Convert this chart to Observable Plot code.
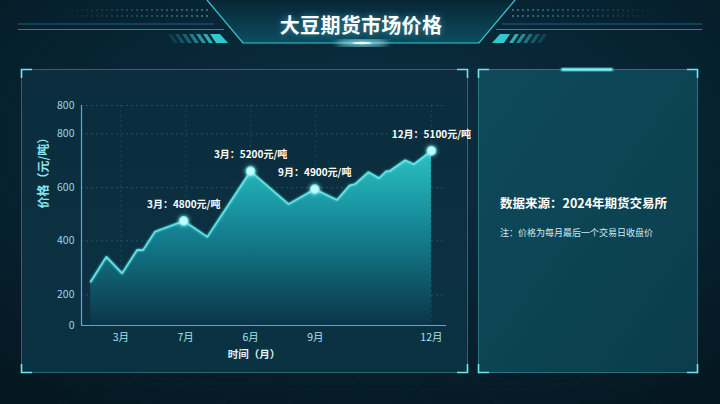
<!DOCTYPE html>
<html><head><meta charset="utf-8">
<script src="https://cdn.jsdelivr.net/npm/d3@7"></script>
<script src="https://cdn.jsdelivr.net/npm/@observablehq/plot@0.6"></script>
<style>
html,body{margin:0;padding:0;width:720px;height:404px;overflow:hidden;background:#061d29;font-family:"Noto Sans CJK SC","Noto Sans",sans-serif;}
#decor{position:absolute;left:0;top:0;}
#title{position:absolute;left:0;top:11px;width:722px;text-align:center;color:#fff;font-size:20px;font-weight:700;line-height:28px;letter-spacing:0.3px;text-shadow:0 0 6px rgba(120,230,255,0.5);}
#chart{position:absolute;left:22px;top:70px;}
#src{position:absolute;left:500px;top:193px;color:#fff;font-size:12.5px;font-weight:700;line-height:20px;white-space:nowrap;}
#note{position:absolute;left:500px;top:225px;color:#d6e8ec;font-size:9px;line-height:16px;white-space:nowrap;}
</style></head>
<body>
<svg id="decor" width="720" height="404" xmlns="http://www.w3.org/2000/svg">
  <defs>
    <radialGradient id="bgG" cx="50%" cy="35%" r="75%">
      <stop offset="0" stop-color="#0b3141"/>
      <stop offset="0.55" stop-color="#072433"/>
      <stop offset="1" stop-color="#051822"/>
    </radialGradient>
    <linearGradient id="trapG" x1="0" y1="0" x2="0" y2="1">
      <stop offset="0" stop-color="#072634"/>
      <stop offset="1" stop-color="#0d4d5f"/>
    </linearGradient>
    <linearGradient id="lpG" x1="0" y1="0" x2="0" y2="1">
      <stop offset="0" stop-color="#0b2d3d"/>
      <stop offset="1" stop-color="#0a3243"/>
    </linearGradient>
    <linearGradient id="rpG" x1="0" y1="0" x2="1" y2="1">
      <stop offset="0" stop-color="#0e4a5a"/>
      <stop offset="0.6" stop-color="#0c4353"/>
      <stop offset="1" stop-color="#0b3c4c"/>
    </linearGradient>
    <filter id="blur3"><feGaussianBlur stdDeviation="3"/></filter>
    <filter id="blur1"><feGaussianBlur stdDeviation="1.2"/></filter>
  </defs>
  <rect width="720" height="404" fill="url(#bgG)"/>
  <g stroke="#3aa6bb" stroke-opacity="0.13" stroke-dasharray="1 3" stroke-width="1">
    <path d="M360 300 L60 404 M360 300 L140 404 M360 300 L220 404 M360 300 L290 404 M360 300 L360 404 M360 300 L430 404 M360 300 L500 404 M360 300 L580 404 M360 300 L660 404"/>
    <path d="M240 342 L480 342 M180 362 L540 362 M120 384 L600 384"/>
  </g>
  <g>
    <line x1="18" y1="24" x2="214" y2="24" stroke="#3cb2c4" stroke-opacity="0.45"/>
    <line x1="18" y1="29.5" x2="224" y2="29.5" stroke="#46c6d8" stroke-opacity="0.6"/>
    <line x1="502" y1="24" x2="702" y2="24" stroke="#3cb2c4" stroke-opacity="0.45"/>
    <line x1="496" y1="29.5" x2="702" y2="29.5" stroke="#46c6d8" stroke-opacity="0.6"/>
    <polygon points="207,0 243,43 479,43 515,0" fill="url(#trapG)"/>
    <path d="M207 0 L243 43 L479 43 L515 0" fill="none" stroke="#39c6d6" stroke-width="1.2"/>
    <ellipse cx="362" cy="43" rx="26" ry="3" fill="#9ff6ff" filter="url(#blur3)"/>
    <ellipse cx="362" cy="43" rx="10" ry="1.2" fill="#e6ffff"/>
    <g fill="#36d0dc">
      <polygon points="168,34 172,34 178,43 174,43" opacity="0.15"/>
      <polygon points="175,34 179,34 185,43 181,43" opacity="0.25"/>
      <polygon points="182,34 186,34 192,43 188,43" opacity="0.35"/>
      <polygon points="189,34 193,34 199,43 195,43" opacity="0.5"/>
      <polygon points="196,34 200,34 206,43 202,43" opacity="0.65"/>
      <polygon points="203,34 207,34 213,43 209,43" opacity="0.8"/>
      <polygon points="210,34 220,34 228,43 216,43" opacity="0.95"/>
      <polygon points="500,34 510,34 504,43 492,43" opacity="0.95"/>
      <polygon points="515,34 519,34 513,43 509,43" opacity="0.8"/>
      <polygon points="522,34 526,34 520,43 516,43" opacity="0.6"/>
      <polygon points="529,34 533,34 527,43 523,43" opacity="0.45"/>
      <polygon points="536,34 540,34 534,43 530,43" opacity="0.3"/>
      <polygon points="543,34 547,34 541,43 537,43" opacity="0.18"/>
    </g>
    <g id="dots" fill="#4fb8c8"></g>
  </g>
  <rect x="21.5" y="69.5" width="446" height="303" fill="url(#lpG)" stroke="#58c4d2" stroke-opacity="0.4"/>
  <path d="M21.5 78 V69.5 H32 M457 69.5 H467.5 V78 M21.5 364 V372.5 H32 M457 372.5 H467.5 V364" fill="none" stroke="#6fe6ee" stroke-width="1.6"/>
  <rect x="478.5" y="69.5" width="219" height="303" fill="url(#rpG)" stroke="#58c4d2" stroke-opacity="0.45"/>
  <path d="M478.5 78 V69.5 H489 M687 69.5 H697.5 V78 M478.5 364 V372.5 H489 M687 372.5 H697.5 V364" fill="none" stroke="#6fe6ee" stroke-width="1.6"/>
  <rect x="561" y="68" width="52" height="3" fill="#5fe6ee" filter="url(#blur1)"/>
  <rect x="562" y="68.5" width="50" height="2" fill="#7ff2f6"/>
</svg>
<div id="title">大豆期货市场价格</div>
<div id="chart"></div>
<div id="src">数据来源：2024年期货交易所</div>
<div id="note">注：价格为每月最后一个交易日收盘价</div>
<script>
// ---- data ----
const weeks  = [0, 2.4, 4.8, 7.1, 8, 9.8, 14.2, 17.8, 24.4, 30.2, 34.2, 37.6, 39.5, 40.4, 42.4, 44, 45.1, 45.6, 48, 49.3, 52];
const prices = [249, 341, 280, 367, 366, 434, 475, 415, 661, 538, 594, 554, 608, 614, 658, 635, 661, 661, 702, 687, 737];
const markIdx    = [6, 8, 10, 20];
const markLabels = ["3月：4800元/吨", "3月：5200元/吨", "9月：4900元/吨", "12月：5100元/吨"];
const xTicks  = [4.6, 14.5, 24.4, 34.3, 52];
const xLabels = ["3月", "7月", "6月", "9月", "12月"];
const yTicks  = [0, 200, 400, 600, 800, 1000];
const yLabels = ["0", "200", "400", "600", "800", "800"];
// the reference axis is unevenly spaced: where each labelled tick sits on a linear track
const yTickTrack = [0, 114, 316, 515, 716, 822];
const xDomain = [-1.4, 54.3];
const yLabel = "价格（元/吨）";
const xLabel = "时间（月）";

// header dots (decoration)
{
  const g = d3.select("#dots");
  for (let r = 0; r < 2; r++) {
    for (let i = 0; i < 28; i++) {
      const op = 0.08 + 0.6 * (i / 27);
      g.append("circle").attr("cx", 72 + i * 5).attr("cy", 10 + r * 6).attr("r", 1).attr("opacity", op);
      g.append("circle").attr("cx", 648 - i * 5).attr("cy", 10 + r * 6).attr("r", 1).attr("opacity", op);
    }
  }
}

// piecewise mapping of values onto the uneven axis
const warp = d3.scaleLinear().domain(yTicks).range(yTickTrack);
const data = weeks.map((w, i) => ({w, v: warp(prices[i])}));
const marks = markIdx.map((k, i) => ({w: weeks[k], v: warp(prices[k]), label: markLabels[i]}));
const yTickPos = yTicks.map(warp);

const svg = Plot.plot({
  width: 446, height: 303,
  marginLeft: 59, marginRight: 22, marginTop: 35, marginBottom: 48,
  style: {background: "transparent", color: "#9ad8e0", fontFamily: "'Noto Sans CJK SC','Noto Sans',sans-serif", fontSize: "10.5px", overflow: "visible"},
  x: {domain: xDomain},
  y: {domain: [yTickPos[0], yTickPos[yTickPos.length - 1]]},
  marks: [
    Plot.gridY(yTickPos, {stroke: "#5ab8c8", strokeOpacity: 0.28, strokeDasharray: "2,3"}),
    Plot.gridX(xTicks, {stroke: "#5ab8c8", strokeOpacity: 0.18, strokeDasharray: "2,3"}),
    Plot.areaY(data, {x: "w", y: "v", fill: "url(#areaGrad)"}),
    Plot.lineY(data, {x: "w", y: "v", stroke: "#62e4e6", strokeWidth: 1.6}),
    Plot.ruleY([yTickPos[0]], {stroke: "#4fb2c2", strokeWidth: 1.2}),
    Plot.ruleX([xDomain[0]], {stroke: "#4fb2c2", strokeWidth: 1.2}),
    Plot.dot(marks, {x: "w", y: "v", r: 4.3, fill: "#c4ffff", stroke: "#70f0f4", strokeWidth: 1.2}),
    Plot.text(marks, {x: "w", y: "v", text: "label", dy: -16, fill: "#ffffff", fontWeight: 600, fontSize: 10}),
    Plot.axisY({ticks: yTickPos, tickFormat: (d, i) => yLabels[i], tickSize: 0, tickPadding: 7, label: null, fill: "#9ad8e0"}),
    Plot.axisX({ticks: xTicks, tickFormat: (d, i) => xLabels[i], tickSize: 0, tickPadding: 8, label: null, fill: "#a8e2ea"}),
    Plot.text([yLabel], {frameAnchor: "left", rotate: -90, dx: -37, dy: -7, fill: "#86e6ec", fontWeight: 700, fontSize: 12}),
    Plot.text([xLabel], {frameAnchor: "bottom", dx: -10, dy: 32, fill: "#e4f4f6", fontWeight: 700, fontSize: 10.5})
  ]
});

d3.select(svg).insert("defs", ":first-child").html(`
  <linearGradient id="areaGrad" x1="0" y1="0" x2="0" y2="1">
    <stop offset="0" stop-color="#2ac4c4"/>
    <stop offset="0.45" stop-color="#148494"/>
    <stop offset="1" stop-color="#0a3547"/>
  </linearGradient>
  <filter id="glow" x="-100%" y="-100%" width="300%" height="300%">
    <feGaussianBlur stdDeviation="2.2" result="b"/>
    <feMerge><feMergeNode in="b"/><feMergeNode in="SourceGraphic"/></feMerge>
  </filter>
  <filter id="lglow" x="-5%" y="-20%" width="110%" height="140%">
    <feGaussianBlur stdDeviation="1.2" result="b"/>
    <feMerge><feMergeNode in="b"/><feMergeNode in="SourceGraphic"/></feMerge>
  </filter>`);
d3.select(svg).selectAll("circle").attr("filter", "url(#glow)");
d3.select(svg).selectAll("path").filter(function(){ return this.getAttribute("stroke") === "#62e4e6" || (this.parentNode && this.parentNode.getAttribute("stroke") === "#62e4e6"); }).attr("filter", "url(#lglow)");
document.getElementById("chart").appendChild(svg);
</script>
</body></html>
